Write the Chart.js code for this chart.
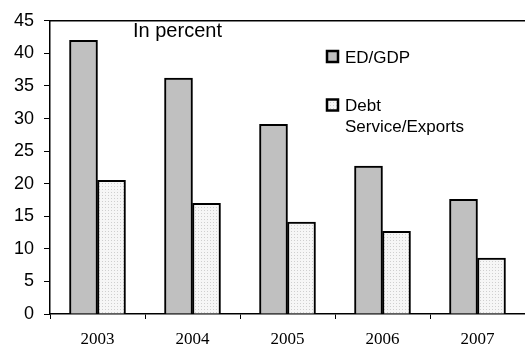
<!DOCTYPE html>
<html>
<head>
<meta charset="utf-8">
<script src="https://cdn.jsdelivr.net/npm/chart.js@4"></script>
<style>
  html, body { margin: 0; padding: 0; background: #fff; }
  #wrap { width: 525px; height: 347px; }
</style>
</head>
<body>
<div id="wrap"><canvas id="chart" width="525" height="347"></canvas></div>
<script>
const years = ["2003", "2004", "2005", "2006", "2007"];
const edGdp = [42.0, 36.2, 29.1, 22.7, 17.6];
const debtService = [20.5, 17.0, 14.1, 12.7, 8.6];
const edLabel = ["ED/GDP"];
const debtLabel = ["Debt", "Service/Exports"];
const note = "In percent";

// dotted fill for the second series
function dotPattern() {
  const c = document.createElement("canvas");
  c.width = 3; c.height = 3;
  const g = c.getContext("2d");
  g.fillStyle = "#f6f6f6";
  g.fillRect(0, 0, 3, 3);
  g.fillStyle = "#cfcfcf";
  g.fillRect(0, 0, 1, 1);
  return g.createPattern(c, "repeat");
}
const pattern = dotPattern();

const sans = "'Liberation Sans', Arial, sans-serif";
const serif = "'Liberation Serif', 'Times New Roman', serif";

const decor = {
  id: "decor",
  afterDraw(chart) {
    const { ctx, chartArea } = chart;
    ctx.save();
    // top frame line
    ctx.strokeStyle = "#000";
    ctx.lineWidth = 1.5;
    ctx.beginPath();
    ctx.moveTo(chartArea.left, chartArea.top);
    ctx.lineTo(chartArea.right, chartArea.top);
    ctx.stroke();

    ctx.fillStyle = "#000";
    ctx.textAlign = "left";
    ctx.textBaseline = "alphabetic";
    ctx.font = "20px " + sans;
    ctx.fillText(note, 133, 37);

    // legend
    const items = [
      { lines: edLabel, fill: "#c0c0c0", boxY: 51, base: 63 },
      { lines: debtLabel, fill: pattern, boxY: 99.5, base: 111 }
    ];
    ctx.font = "17px " + sans;
    items.forEach(it => {
      ctx.fillStyle = it.fill;
      ctx.fillRect(327, it.boxY, 11, 11);
      ctx.lineWidth = 2.5;
      ctx.strokeStyle = "#000";
      ctx.strokeRect(327, it.boxY, 11, 11);
      ctx.fillStyle = "#000";
      it.lines.forEach((ln, i) => ctx.fillText(ln, 345, it.base + i * 21));
    });
    ctx.restore();
  }
};

new Chart(document.getElementById("chart"), {
  type: "bar",
  data: {
    labels: years,
    datasets: [
      {
        label: edLabel.join(" "),
        data: edGdp,
        backgroundColor: "#c0c0c0",
        borderColor: "#000",
        borderWidth: 2,
        barThickness: 28
      },
      {
        label: debtLabel.join(" "),
        data: debtService,
        backgroundColor: pattern,
        borderColor: "#000",
        borderWidth: 2,
        barThickness: 28
      }
    ]
  },
  options: {
    responsive: false,
    animation: false,
    layout: { padding: { top: 13, right: 0, left: 0, bottom: 0 } },
    plugins: {
      legend: { display: false },
      tooltip: { enabled: false }
    },
    scales: {
      x: {
        afterFit(s) { s.height = 33; },
        grid: { offset: true, drawOnChartArea: false, tickLength: 5, color: "#000", lineWidth: 1 },
        border: { color: "#000", width: 1.5 },
        ticks: { color: "#000", font: { family: serif, size: 17 }, padding: 10 }
      },
      y: {
        min: 0,
        max: 45,
        afterFit(s) { s.width = 50; },
        grid: { drawOnChartArea: false, tickLength: 6, color: "#000", lineWidth: 1 },
        border: { color: "#000", width: 1.5 },
        ticks: { stepSize: 5, color: "#000", font: { family: sans, size: 18 }, padding: 10 }
      }
    }
  },
  plugins: [decor]
});
</script>
</body>
</html>
